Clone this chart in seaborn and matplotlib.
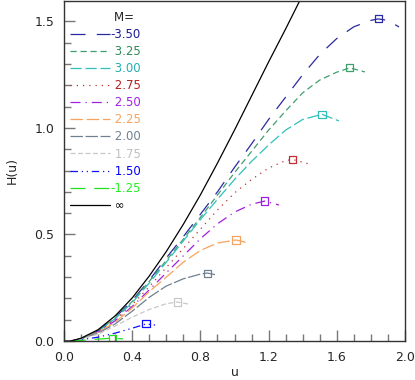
import matplotlib
matplotlib.use("Agg")
import matplotlib.pyplot as plt
import seaborn as sns
import numpy as np
import pandas as pd
from matplotlib.ticker import MultipleLocator, FormatStrFormatter

sns.set_theme(style="white")
plt.rcParams['font.family'] = ['DejaVu Sans']

# ---- data ----
labels = ["-3.50", "3.25", "3.00", "2.75", "2.50", "2.25", "2.00", "1.75", "1.50", "-1.25", "\u221e"]

u_m350 = [0.04, 0.1, 0.2, 0.3, 0.4, 0.5, 0.6, 0.7, 0.8, 0.9, 1.0, 1.1, 1.2, 1.3, 1.4, 1.5, 1.6, 1.7, 1.8, 1.842, 1.9, 1.965]
H_m350 = [0.0, 0.01, 0.048, 0.11, 0.19, 0.285, 0.39, 0.49, 0.595, 0.70, 0.815, 0.925, 1.04, 1.145, 1.25, 1.345, 1.42, 1.475, 1.505, 1.512, 1.505, 1.474]

u_325 = [0.04, 0.1, 0.2, 0.3, 0.4, 0.5, 0.6, 0.7, 0.8, 0.9, 1.0, 1.1, 1.2, 1.3, 1.4, 1.5, 1.6, 1.677, 1.765]
H_325 = [0.0, 0.01, 0.047, 0.108, 0.185, 0.28, 0.378, 0.478, 0.58, 0.685, 0.79, 0.89, 0.99, 1.08, 1.165, 1.225, 1.262, 1.282, 1.263]

u_300 = [0.04, 0.1, 0.2, 0.3, 0.4, 0.5, 0.6, 0.7, 0.8, 0.9, 1.0, 1.1, 1.2, 1.3, 1.4, 1.513, 1.613]
H_300 = [0.0, 0.01, 0.046, 0.105, 0.18, 0.272, 0.37, 0.47, 0.57, 0.665, 0.758, 0.843, 0.92, 0.99, 1.04, 1.064, 1.033]

u_275 = [0.04, 0.1, 0.2, 0.3, 0.4, 0.5, 0.6, 0.7, 0.8, 0.9, 1.0, 1.1, 1.2, 1.3, 1.341, 1.437]
H_275 = [0.0, 0.01, 0.044, 0.10, 0.17, 0.255, 0.345, 0.435, 0.525, 0.615, 0.695, 0.758, 0.812, 0.847, 0.852, 0.831]

u_250 = [0.04, 0.1, 0.2, 0.3, 0.4, 0.5, 0.6, 0.7, 0.8, 0.9, 1.0, 1.1, 1.178, 1.261]
H_250 = [0.0, 0.01, 0.042, 0.095, 0.162, 0.24, 0.32, 0.40, 0.48, 0.55, 0.605, 0.642, 0.657, 0.638]

u_225 = [0.04, 0.1, 0.2, 0.3, 0.4, 0.5, 0.6, 0.7, 0.8, 0.9, 1.009, 1.085]
H_225 = [0.0, 0.01, 0.04, 0.088, 0.155, 0.232, 0.30, 0.37, 0.425, 0.46, 0.474, 0.46]

u_200 = [0.04, 0.1, 0.2, 0.3, 0.4, 0.5, 0.6, 0.7, 0.8, 0.839, 0.897]
H_200 = [0.0, 0.01, 0.037, 0.08, 0.14, 0.205, 0.258, 0.292, 0.314, 0.319, 0.31]

u_175 = [0.04, 0.1, 0.2, 0.3, 0.4, 0.5, 0.6, 0.663, 0.727]
H_175 = [0.0, 0.009, 0.032, 0.07, 0.112, 0.148, 0.175, 0.183, 0.174]

u_150 = [0.04, 0.1, 0.2, 0.3, 0.4, 0.481, 0.534]
H_150 = [0.0, 0.006, 0.018, 0.037, 0.06, 0.08, 0.075]

u_m125 = [0.04, 0.1, 0.2, 0.282, 0.346]
H_m125 = [0.0, 0.003, 0.009, 0.013, 0.01]

u_inf = [0.0, 0.04, 0.1, 0.2, 0.3, 0.4, 0.5, 0.6, 0.7, 0.8, 0.9, 1.0, 1.1, 1.2, 1.3, 1.4]
H_inf = [0.0, 0.0, 0.013, 0.053, 0.118, 0.202, 0.305, 0.42, 0.548, 0.686, 0.835, 0.99, 1.15, 1.31, 1.465, 1.625]

peak_u = [1.842, 1.677, 1.513, 1.341, 1.178, 1.009, 0.839, 0.663, 0.481, 0.282]
peak_H = [1.512, 1.282, 1.064, 0.852, 0.657, 0.474, 0.319, 0.183, 0.080, 0.013]

series_u = [u_m350, u_325, u_300, u_275, u_250, u_225, u_200, u_175, u_150, u_m125, u_inf]
series_H = [H_m350, H_325, H_300, H_275, H_250, H_225, H_200, H_175, H_150, H_m125, H_inf]

# ---- styles ----
colors = ["#2a2aa0", "#3f9f6f", "#30c0b8", "#c03030", "#a020e0", "#f4a460",
          "#708090", "#c8c8c8", "#1010ff", "#20e020", "#000000"]
text_colors = ["#1c1c96", "#2e8b57", "#20b0b0", "#b22222", "#a020f0", "#f4a460",
               "#708090", "#c0c0c0", "#0000ff", "#22ee22", "#000000"]
styles = [(0, (12, 9)), (0, (5, 3)), (0, (9, 3)), (0, (1, 4)), (0, (8, 4, 1, 4)),
          (0, (10, 3)), (0, (10, 2)), (0, (4, 2)), (0, (6, 3, 1, 3, 1, 3)),
          (0, (12, 7)), "-"]

fig = plt.figure(figsize=(4.15, 3.8), dpi=100)
ax = fig.add_axes([64 / 415, 1 - 341 / 380, 341 / 415, 340 / 380])

handles = []
for i, (uu, hh) in enumerate(zip(series_u, series_H)):
    df = pd.DataFrame({"u": uu, "H": hh})
    sns.lineplot(data=df, x="u", y="H", ax=ax, color=colors[i], linestyle=styles[i],
                 linewidth=0.9, sort=False, estimator=None, legend=False)
    handles.append(ax.get_lines()[-1])

for i in range(len(peak_u)):
    sns.scatterplot(x=[peak_u[i]], y=[peak_H[i]], ax=ax, marker="s", s=26,
                    facecolors="none", edgecolors=colors[i], linewidths=0.9, legend=False)

ax.set_xlim(0, 2.0)
ax.set_ylim(0, 1.596)
ax.xaxis.set_major_locator(MultipleLocator(0.4))
ax.xaxis.set_minor_locator(MultipleLocator(0.1))
ax.yaxis.set_major_locator(MultipleLocator(0.5))
ax.yaxis.set_minor_locator(MultipleLocator(0.1))
ax.xaxis.set_major_formatter(FormatStrFormatter("%.1f"))
ax.yaxis.set_major_formatter(FormatStrFormatter("%.1f"))
ax.tick_params(which="major", direction="in", length=8, width=1, color="#777777",
               labelsize=9, pad=7, top=False, right=False, bottom=True, left=True)
ax.tick_params(which="minor", direction="in", length=5, width=1, color="#777777",
               top=False, right=False, bottom=True, left=True)
for sp in ax.spines.values():
    sp.set_color("#333333")
    sp.set_linewidth(1.0)

ax.set_xlabel("u", fontsize=9, labelpad=2)
ax.set_ylabel("H(u)", fontsize=9, labelpad=11)

leg_labels = [("\u2008" + l if not l.startswith("-") else l) for l in labels]
leg_labels[-1] = " \u221e"
leg = ax.legend(handles, leg_labels, title="M=  ", loc="upper left",
                bbox_to_anchor=(0.0176, 0.972), frameon=False, borderpad=0,
                borderaxespad=0, fontsize=8.5, title_fontsize=8.5,
                handlelength=3.4, handletextpad=0.05, labelspacing=0.35,
                alignment="right")
for t, c in zip(leg.get_texts(), text_colors):
    t.set_color(c)

fig.savefig("out.png", dpi=100)
